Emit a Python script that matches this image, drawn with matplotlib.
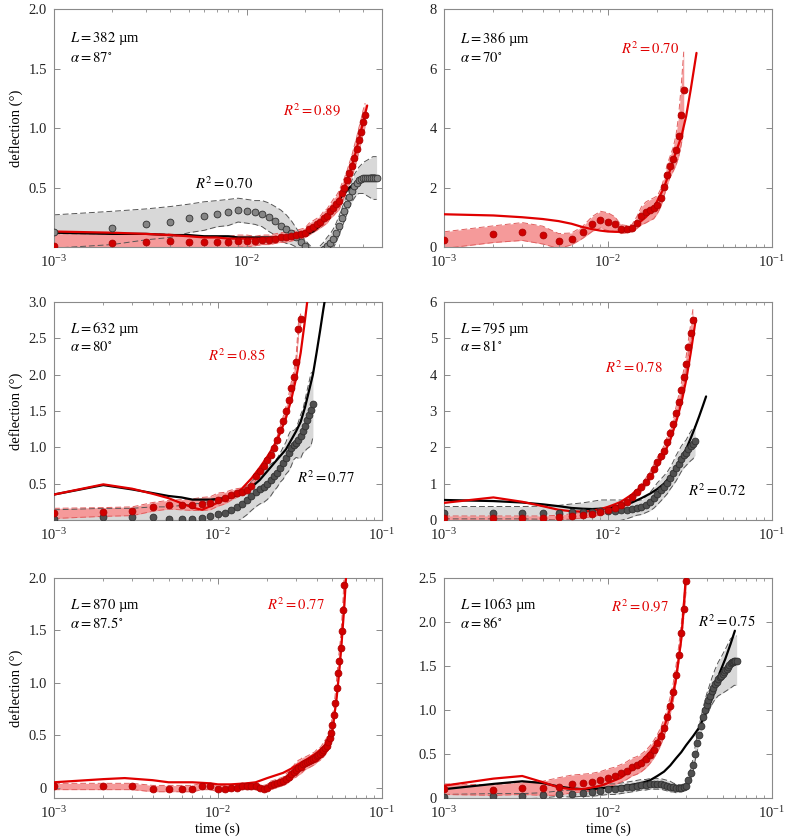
import numpy as np
import matplotlib
matplotlib.use("Agg")
import matplotlib.pyplot as plt
from matplotlib.ticker import LogLocator, NullFormatter, FixedLocator

plt.rcParams['font.family'] = ['Liberation Serif', 'DejaVu Serif']
plt.rcParams['mathtext.fontset'] = 'stix'
plt.rcParams['font.size'] = 10

# ---------------- data (time in ms, deflection in degrees) ----------------
# panel 1: L = 382 um
p1_red = [0.01, 0.03, 0.04, 0.05, 0.04, 0.04, 0.04, 0.04, 0.05, 0.05,
          0.05, 0.06, 0.06, 0.07, 0.08, 0.08, 0.09, 0.10, 0.11, 0.12,
          0.15, 0.17, 0.19, 0.21, 0.24, 0.26, 0.30, 0.33, 0.36, 0.39,
          0.45, 0.50, 0.56, 0.62, 0.68, 0.75, 0.82, 0.90, 0.97, 1.05, 1.11]
p1_red_sd = [0.10, 0.08, 0.07, 0.06, 0.05, 0.05, 0.05, 0.05, 0.05, 0.05,
             0.04, 0.04, 0.04, 0.04, 0.04, 0.04, 0.04, 0.04, 0.04, 0.04,
             0.05, 0.05, 0.05, 0.05, 0.06, 0.06, 0.06, 0.07, 0.07, 0.08,
             0.08, 0.08, 0.08, 0.09, 0.09, 0.10, 0.10, 0.10, 0.10, 0.10, 0.10]
p1_red_fit_t = [1, 2, 3, 4, 5, 6, 7, 8, 9, 10, 12, 14, 16, 18, 20, 22, 24, 26,
                28, 30, 32, 34, 36, 38, 40, 42]
p1_red_fit = [0.13, 0.12, 0.11, 0.10, 0.09, 0.08, 0.08, 0.07, 0.07, 0.07, 0.07,
              0.08, 0.09, 0.11, 0.13, 0.16, 0.20, 0.25, 0.32, 0.40, 0.50, 0.62,
              0.75, 0.90, 1.05, 1.19]
p1_gray = [0.13, 0.16, 0.19, 0.21, 0.24, 0.26, 0.28, 0.29, 0.31, 0.30,
           0.29, 0.28, 0.25, 0.22, 0.18, 0.15, 0.12, 0.08, 0.04, 0.01,
           -0.03, -0.06, -0.07, -0.05, -0.02, 0.01, 0.03, 0.07, 0.12, 0.18,
           0.24, 0.30, 0.36, 0.42, 0.47, 0.51, 0.54, 0.56, 0.57, 0.58,
           0.58, 0.58, 0.58, 0.58, 0.58, 0.58, 0.58]
p1_gray_sd = [0.14, 0.14, 0.13, 0.13, 0.12, 0.12, 0.11, 0.11, 0.10, 0.10,
              0.10, 0.11, 0.12, 0.12, 0.13, 0.12, 0.10, 0.08, 0.06, 0.05,
              0.05, 0.05, 0.05, 0.06, 0.06, 0.07, 0.08, 0.08, 0.08, 0.08,
              0.08, 0.08, 0.08, 0.08, 0.09, 0.10, 0.10, 0.11, 0.12, 0.13,
              0.14, 0.15, 0.16, 0.17, 0.18, 0.18, 0.18]
p1_blk_fit_t = [1, 2, 3, 4, 5, 6, 7, 8, 9, 10, 12, 14, 16, 18, 20, 22, 24, 26,
                28, 30, 32, 34, 36, 38, 40, 42, 44, 46, 48]
p1_blk_fit = [0.12, 0.11, 0.11, 0.10, 0.10, 0.09, 0.09, 0.09, 0.08, 0.08, 0.08,
              0.08, 0.08, 0.09, 0.10, 0.13, 0.18, 0.25, 0.33, 0.40, 0.45, 0.50,
              0.53, 0.56, 0.58, 0.59, 0.60, 0.60, 0.59]

# panel 2: L = 386 um
p2_red = [0.23, 0.43, 0.52, 0.40, 0.20, 0.27, 0.49, 0.77, 0.92, 0.85,
          0.77, 0.60, 0.60, 0.63, 0.82, 1.05, 1.16, 1.24, 1.30, 1.42,
          1.65, 2.01, 2.43, 2.72, 2.95, 3.25, 3.73, 4.44, 5.27]
p2_red_sd = [0.28, 0.28, 0.30, 0.30, 0.25, 0.20, 0.20, 0.25, 0.28, 0.30,
             0.25, 0.15, 0.12, 0.12, 0.20, 0.30, 0.35, 0.35, 0.35, 0.30,
             0.30, 0.30, 0.35, 0.35, 0.40, 0.50, 0.70, 1.00, 1.30]
p2_red_fit_t = [1, 2, 3, 4, 5, 6, 7, 8, 9, 10, 11, 12, 13, 14, 15, 16, 17, 18,
                19, 20, 22, 24, 26, 28, 30, 32, 34.7]
p2_red_fit = [1.10, 1.06, 1.00, 0.94, 0.87, 0.78, 0.67, 0.60, 0.55, 0.52, 0.51,
              0.51, 0.53, 0.63, 0.77, 0.88, 1.00, 1.15, 1.30, 1.55, 2.00, 2.60,
              3.20, 3.70, 4.40, 5.30, 6.53]

# panel 3: L = 632 um
p3_red = [0.09, 0.11, 0.12, 0.18, 0.21, 0.21, 0.21, 0.22, 0.23, 0.28,
          0.30, 0.34, 0.37, 0.39, 0.41, 0.47, 0.60, 0.67, 0.74, 0.82,
          0.90, 0.99, 1.10, 1.24, 1.36, 1.50, 1.65, 1.82, 1.97, 2.18,
          2.63, 2.76]
p3_red_sd = [0.07, 0.06, 0.06, 0.06, 0.06, 0.07, 0.08, 0.09, 0.09, 0.09,
             0.08, 0.07, 0.06, 0.05, 0.05, 0.05, 0.05, 0.05, 0.05, 0.05,
             0.05, 0.05, 0.05, 0.05, 0.06, 0.06, 0.06, 0.07, 0.07, 0.07,
             0.08, 0.08]
p3_red_fit_t = [1, 2, 3, 4, 5, 6, 7, 8, 9, 10, 12, 14, 16, 18, 20, 22, 24, 26,
                28, 30, 32, 34, 35.5]
p3_red_fit = [0.35, 0.49, 0.43, 0.36, 0.30, 0.23, 0.17, 0.14, 0.19, 0.24, 0.32,
              0.43, 0.57, 0.72, 0.87, 1.02, 1.20, 1.40, 1.65, 1.95, 2.30, 2.75,
              3.10]
p3_gray = [0.01, 0.04, 0.04, 0.04, 0.02, 0.02, 0.02, 0.03, 0.06, 0.08,
           0.10, 0.14, 0.18, 0.22, 0.27, 0.33, 0.38, 0.42, 0.46, 0.50,
           0.55, 0.60, 0.65, 0.72, 0.78, 0.85, 0.92, 0.99, 1.03, 1.06,
           1.10, 1.15, 1.22, 1.30, 1.38, 1.45, 1.52, 1.59]
p3_gray_sd = [0.13, 0.12, 0.12, 0.14, 0.16, 0.18, 0.20, 0.20, 0.20, 0.20,
              0.20, 0.20, 0.20, 0.20, 0.20, 0.20, 0.20, 0.20, 0.22, 0.22,
              0.22, 0.20, 0.20, 0.20, 0.22, 0.22, 0.25, 0.25, 0.20, 0.20,
              0.25, 0.30, 0.30, 0.35, 0.40, 0.45, 0.50, 0.45]
p3_blk_fit_t = [1, 2, 3, 4, 5, 6, 7, 8, 9, 10, 12, 14, 16, 18, 20, 22, 24, 26,
                28, 30, 32, 34, 36, 38, 40, 42, 44, 45.5]
p3_blk_fit = [0.35, 0.48, 0.42, 0.37, 0.33, 0.31, 0.28, 0.28, 0.28, 0.29, 0.31,
              0.36, 0.45, 0.55, 0.67, 0.78, 0.88, 0.97, 1.10, 1.22, 1.35, 1.55,
              1.78, 2.00, 2.30, 2.60, 2.90, 3.10]

# panel 4: L = 795 um
p4_red = [0.05, 0.05, 0.05, 0.05, 0.07, 0.10, 0.13, 0.17, 0.22, 0.27,
          0.33, 0.40, 0.50, 0.62, 0.76, 0.90, 1.05, 1.20, 1.40, 1.60,
          1.75, 1.90, 2.15, 2.40, 2.65, 2.95, 3.25, 3.57, 3.94, 4.30,
          4.75, 5.15, 5.50]
p4_red_sd = [0.06, 0.06, 0.06, 0.06, 0.06, 0.07, 0.08, 0.08, 0.08, 0.08,
             0.08, 0.08, 0.09, 0.10, 0.10, 0.10, 0.10, 0.10, 0.12, 0.12,
             0.12, 0.15, 0.15, 0.15, 0.15, 0.15, 0.18, 0.18, 0.20, 0.20,
             0.22, 0.25, 0.30]
p4_red_fit_t = [1, 2, 3, 4, 5, 6, 7, 8, 9, 10, 11, 12, 14, 16, 18, 20, 22, 24,
                26, 28, 30, 32, 34.4]
p4_red_fit = [0.47, 0.62, 0.50, 0.38, 0.28, 0.24, 0.23, 0.25, 0.30, 0.36, 0.43,
              0.50, 0.70, 0.92, 1.17, 1.48, 1.82, 2.20, 2.68, 3.20, 3.85, 4.60,
              5.55]
p4_gray = [0.20, 0.20, 0.20, 0.20, 0.20, 0.22, 0.22, 0.23, 0.25, 0.25,
           0.25, 0.27, 0.28, 0.30, 0.33, 0.35, 0.42, 0.50, 0.60, 0.72,
           0.82, 0.92, 1.02, 1.15, 1.28, 1.42, 1.55, 1.68, 1.78, 1.85,
           1.95, 2.03, 2.10, 2.18]
p4_gray_sd = [0.17, 0.17, 0.17, 0.18, 0.20, 0.22, 0.25, 0.28, 0.30, 0.30,
              0.30, 0.28, 0.25, 0.22, 0.20, 0.20, 0.22, 0.25, 0.28, 0.30,
              0.30, 0.30, 0.30, 0.30, 0.32, 0.35, 0.35, 0.35, 0.35, 0.35,
              0.38, 0.40, 0.42, 0.40]
p4_blk_fit_t = [1, 2, 3, 4, 5, 6, 7, 8, 10, 12, 14, 16, 18, 20, 22, 24, 26, 28,
                30, 32, 34, 36, 38, 39.7]
p4_blk_fit = [0.55, 0.52, 0.48, 0.43, 0.38, 0.33, 0.31, 0.30, 0.32, 0.40, 0.48,
              0.60, 0.72, 0.85, 1.00, 1.20, 1.45, 1.70, 1.95, 2.25, 2.55, 2.85,
              3.15, 3.40]

# panel 5: L = 870 um
p5_red = [0.01, 0.01, 0.01, -0.01, -0.01, -0.01, -0.01, 0.01, 0.01, -0.01,
          -0.01, 0.00, 0.00, 0.01, 0.01, 0.01, 0.01, 0.00, -0.01, 0.00,
          0.02, 0.03, 0.04, 0.05, 0.06, 0.08, 0.10, 0.13, 0.15, 0.17,
          0.19, 0.20, 0.22, 0.23, 0.24, 0.25, 0.26, 0.27, 0.28, 0.30,
          0.31, 0.32, 0.34, 0.36, 0.38, 0.40, 0.43, 0.47, 0.52, 0.60,
          0.69, 0.81, 0.95, 1.09, 1.21, 1.33, 1.49, 1.69, 1.93]
p5_red_sd = [0.03, 0.03, 0.03, 0.03, 0.03, 0.03, 0.03, 0.03, 0.03, 0.03,
             0.03, 0.03, 0.03, 0.03, 0.03, 0.03, 0.03, 0.03, 0.03, 0.03,
             0.04, 0.04, 0.04, 0.04, 0.04, 0.05, 0.05, 0.06, 0.06, 0.07,
             0.07, 0.07, 0.07, 0.06, 0.06, 0.06, 0.06, 0.06, 0.06, 0.06,
             0.06, 0.06, 0.06, 0.07, 0.07, 0.07, 0.07, 0.08, 0.08, 0.08,
             0.08, 0.08, 0.08, 0.09, 0.09, 0.09, 0.10, 0.10, 0.10]
p5_red_fit_t = [1, 2, 2.7, 4, 5, 7, 9, 10, 12, 15, 17, 20, 25, 28, 30, 35, 40,
                45, 50, 53, 55, 57, 59, 61]
p5_red_fit = [0.05, 0.08, 0.09, 0.07, 0.05, 0.05, 0.04, 0.03, 0.03, 0.04, 0.05,
              0.09, 0.14, 0.18, 0.21, 0.27, 0.33, 0.40, 0.55, 0.85, 1.10, 1.40,
              1.72, 2.10]

# panel 6: L = 1063 um
p6_red = [0.10, 0.09, 0.11, 0.11, 0.13, 0.16, 0.17, 0.18, 0.20, 0.23,
          0.25, 0.28, 0.31, 0.35, 0.37, 0.40, 0.44, 0.49, 0.55, 0.62,
          0.70, 0.80, 0.92, 1.05, 1.20, 1.40, 1.62, 1.87, 2.15, 2.47]
p6_red_sd = [0.06, 0.06, 0.07, 0.08, 0.10, 0.10, 0.10, 0.10, 0.10, 0.10,
             0.10, 0.10, 0.10, 0.10, 0.10, 0.10, 0.10, 0.10, 0.10, 0.10,
             0.10, 0.10, 0.10, 0.10, 0.10, 0.10, 0.10, 0.10, 0.10, 0.10]
p6_red_fit_t = [1, 2, 3, 4, 5, 6, 7, 8, 9, 10, 12, 14, 16, 18, 20, 22, 24, 26,
                28, 30]
p6_red_fit = [0.14, 0.22, 0.25, 0.18, 0.12, 0.10, 0.10, 0.12, 0.14, 0.17, 0.23,
              0.32, 0.42, 0.52, 0.64, 0.80, 1.02, 1.35, 1.80, 2.55]
p6_gray = [0.01, 0.02, 0.02, 0.03, 0.05, 0.05, 0.06, 0.07, 0.08, 0.10,
           0.10, 0.11, 0.12, 0.13, 0.14, 0.15, 0.15, 0.16, 0.16, 0.16,
           0.16, 0.15, 0.14, 0.13, 0.12, 0.11, 0.11, 0.11, 0.12, 0.14,
           0.20, 0.28, 0.37, 0.50, 0.62, 0.72, 0.82, 0.92, 1.00, 1.06,
           1.11, 1.16, 1.21, 1.25, 1.29, 1.32, 1.35, 1.37, 1.39, 1.41,
           1.43, 1.45, 1.47, 1.49, 1.51, 1.53, 1.54, 1.55, 1.56, 1.56, 1.56]
p6_gray_sd = [0.03, 0.03, 0.03, 0.03, 0.03, 0.04, 0.04, 0.05, 0.05, 0.06,
              0.06, 0.06, 0.06, 0.06, 0.06, 0.06, 0.06, 0.06, 0.06, 0.06,
              0.06, 0.06, 0.06, 0.06, 0.05, 0.05, 0.04, 0.04, 0.04, 0.04,
              0.05, 0.06, 0.07, 0.08, 0.09, 0.10, 0.10, 0.10, 0.10, 0.12,
              0.13, 0.14, 0.15, 0.16, 0.17, 0.18, 0.19, 0.20, 0.21, 0.22,
              0.23, 0.24, 0.25, 0.26, 0.27, 0.28, 0.28, 0.28, 0.28, 0.28, 0.28]
p6_blk_fit_t = [1, 2, 3, 4, 5, 6, 7, 8, 10, 12, 14, 16, 18, 20, 22, 24, 26, 28,
                30, 33, 36, 40, 44, 48, 52, 56, 59.5]
p6_blk_fit = [0.10, 0.16, 0.19, 0.17, 0.13, 0.11, 0.10, 0.10, 0.12, 0.13, 0.15,
              0.17, 0.20, 0.25, 0.30, 0.37, 0.45, 0.52, 0.60, 0.70, 0.80, 0.98,
              1.17, 1.42, 1.58, 1.75, 1.90]

# panel labels
lengths = ['382', '386', '632', '795', '870', '1063']
angles = ['87', '70', '80', '81', '87.5', '86']
r2_red = ['0.89', '0.70', '0.85', '0.78', '0.77', '0.97']
r2_blk = ['0.70', None, '0.77', '0.72', None, '0.75']

# ---------------- styling ----------------
RED = '#e00000'
RED_DOT = '#d00000'
PINK = '#f59a9a'
GRAY_BAND = '#d8d8d8'
SPINE = '#8a8a8a'


def band(ax, k, vals, sd, fill, edge):
    t = np.array(k) * 1e-3
    v = np.array(vals)
    s = np.array(sd)
    ax.fill_between(t, v - s, v + s, color=fill, lw=0, zorder=1)
    ax.plot(t, v - s, ls=(0, (6, 3)), color=edge, lw=0.7, zorder=1.5)
    ax.plot(t, v + s, ls=(0, (6, 3)), color=edge, lw=0.7, zorder=1.5)


def dots(ax, vals, face, edge):
    t = np.arange(1, len(vals) + 1) * 1e-3
    ax.scatter(t, vals, s=24, c=face, edgecolors=edge, linewidths=0.6, zorder=4)


def fit(ax, tms, vals, color):
    ax.plot(np.array(tms) * 1e-3, vals, color=color, lw=1.6, zorder=3,
            solid_capstyle='round')


fig = plt.figure(figsize=(7.88, 8.40), dpi=100)

lefts = [0.0685, 0.5635]
w = 0.416
rows = [(0.706, 0.283), (0.381, 0.2595), (0.050, 0.262)]
axes = []
for r in range(3):
    for c in range(2):
        ax = fig.add_axes([lefts[c], rows[r][0], w, rows[r][1]])
        axes.append(ax)

panels = [
    dict(red=(p1_red, p1_red_sd, p1_red_fit_t, p1_red_fit),
         gray=(p1_gray, p1_gray_sd, p1_blk_fit_t, p1_blk_fit), gray_face='#858585',
         ylim=(0, 2.0), yticks=[0.5, 1.0, 1.5, 2.0], fmt='%.1f', xmax=0.05,
         red_pos=(0.70, 0.575), blk_pos=(0.43, 0.265)),
    dict(red=(p2_red, p2_red_sd, p2_red_fit_t, p2_red_fit), gray=None,
         ylim=(0, 8), yticks=[0, 2, 4, 6, 8], fmt='%d', xmax=0.1,
         red_pos=(0.54, 0.835), blk_pos=None),
    dict(red=(p3_red, p3_red_sd, p3_red_fit_t, p3_red_fit),
         gray=(p3_gray, p3_gray_sd, p3_blk_fit_t, p3_blk_fit), gray_face='#505050',
         ylim=(0, 3.0), yticks=[0.5, 1.0, 1.5, 2.0, 2.5, 3.0], fmt='%.1f', xmax=0.1,
         red_pos=(0.47, 0.753), blk_pos=(0.74, 0.196)),
    dict(red=(p4_red, p4_red_sd, p4_red_fit_t, p4_red_fit),
         gray=(p4_gray, p4_gray_sd, p4_blk_fit_t, p4_blk_fit), gray_face='#505050',
         ylim=(0, 6), yticks=[0, 1, 2, 3, 4, 5, 6], fmt='%d', xmax=0.1,
         red_pos=(0.49, 0.70), blk_pos=(0.745, 0.135)),
    dict(red=(p5_red, p5_red_sd, p5_red_fit_t, p5_red_fit), gray=None,
         ylim=(-0.1, 2.0), yticks=[0, 0.5, 1.0, 1.5, 2.0], fmt=None, xmax=0.1,
         red_pos=(0.65, 0.88), blk_pos=None),
    dict(red=(p6_red, p6_red_sd, p6_red_fit_t, p6_red_fit),
         gray=(p6_gray, p6_gray_sd, p6_blk_fit_t, p6_blk_fit), gray_face='#505050',
         ylim=(0, 2.5), yticks=[0, 0.5, 1.0, 1.5, 2.0, 2.5], fmt=None, xmax=0.1,
         red_pos=(0.51, 0.87), blk_pos=(0.775, 0.80)),
]

for i, (ax, p) in enumerate(zip(axes, panels)):
    if p['gray'] is not None:
        g, gsd, gft, gf = p['gray']
        band(ax, range(1, len(g) + 1), g, gsd, GRAY_BAND, '#555555')
    r, rsd, rft, rf = p['red']
    band(ax, range(1, len(r) + 1), r, rsd, PINK, '#e06060')
    if p['gray'] is not None:
        fit(ax, gft, gf, 'black')
        dots(ax, g, p['gray_face'], '#303030')
    fit(ax, rft, rf, RED)
    dots(ax, r, RED_DOT, '#b00000')

    ax.set_xscale('log')
    ax.set_xlim(1e-3, p['xmax'])
    ax.set_ylim(*p['ylim'])
    ax.xaxis.set_major_locator(LogLocator(base=10, numticks=10))
    ax.xaxis.set_minor_locator(LogLocator(base=10, subs=np.arange(2, 10), numticks=20))
    ax.xaxis.set_minor_formatter(NullFormatter())
    ax.yaxis.set_major_locator(FixedLocator(p['yticks']))
    if p['fmt'] is not None:
        ax.set_yticklabels([p['fmt'] % v for v in p['yticks']])
    else:
        ax.set_yticklabels(['0' if v == 0 else '%.1f' % v for v in p['yticks']])
    for s in ax.spines.values():
        s.set_color(SPINE)
        s.set_linewidth(0.8)
    ax.tick_params(which='both', direction='in', top=True, right=True,
                   color=SPINE, labelsize=10.5, labelcolor='#222222')
    ax.tick_params(which='major', length=4, width=0.7, pad=5)
    ax.tick_params(which='minor', length=2.5, width=0.6)

    ax.text(0.05, 0.875, r'$L = %s$ µm' % lengths[i], transform=ax.transAxes,
            fontsize=10.5, va='center', ha='left')
    ax.text(0.05, 0.795, r'$\alpha = %s^{\circ}$' % angles[i], transform=ax.transAxes,
            fontsize=10.5, va='center', ha='left')
    ax.text(p['red_pos'][0], p['red_pos'][1], r'$R^2 = %s$' % r2_red[i],
            transform=ax.transAxes, color=RED, fontsize=10.5, va='center', ha='left')
    if r2_blk[i] is not None:
        ax.text(p['blk_pos'][0], p['blk_pos'][1], r'$R^2 = %s$' % r2_blk[i],
                transform=ax.transAxes, color='black', fontsize=10.5,
                va='center', ha='left')

    if i % 2 == 0:
        ax.set_ylabel('deflection (°)', fontsize=10.5, labelpad=4)
    if i >= 4:
        ax.set_xlabel('time (s)', fontsize=10.5, labelpad=1)

fig.savefig('out.png', dpi=100)
